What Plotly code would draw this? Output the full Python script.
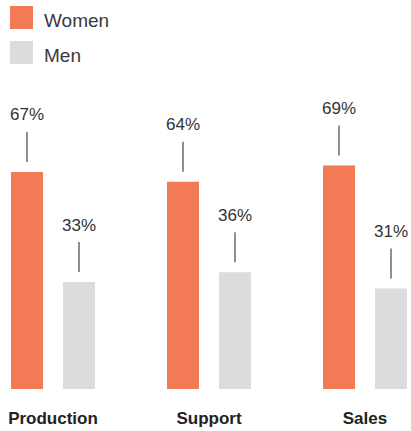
import plotly.graph_objects as go

categories = ["Production", "Support", "Sales"]
women = [67, 64, 69]
men = [33, 36, 31]
series_names = ["Women", "Men"]
colors = ["#F27A55", "#DCDCDE"]

FONT = "Liberation Sans, Arial, sans-serif"
xs = list(range(len(categories)))

fig = go.Figure()
for name, vals, col in zip(series_names, [women, men], colors):
    fig.add_trace(go.Bar(
        x=xs, y=vals, name=name, marker=dict(color=col, line=dict(width=0)),
        showlegend=False, hoverinfo="skip",
    ))

# Group geometry (grouped bars): offset of each bar from the category centre
bargap = 1 / 3
bargroupgap = 0.3846
slot = (1 - bargap) / 2
offsets = [-slot / 2, slot / 2]

annotations = []
for vals, off in zip([women, men], offsets):
    for x, v in zip(xs, vals):
        annotations.append(dict(
            x=x + off, y=v, xref="x", yref="y",
            text=f"{v}%", showarrow=True, ax=0, ay=-57,
            arrowhead=0, arrowwidth=1.3, arrowcolor="#555555",
            standoff=10, borderpad=7,
            font=dict(family=FONT, size=17, color="#333333"),
        ))

# Legend drawn as swatches + labels
shapes = []
for i, (name, col) in enumerate(zip(series_names, colors)):
    y0 = 6 + i * 35
    shapes.append(dict(type="rect", xref="paper", yref="paper",
                       x0=10 / 411, x1=33 / 411,
                       y0=1 - (y0 + 23 - 65) / 324, y1=1 - (y0 - 65) / 324,
                       fillcolor=col, line=dict(width=0), layer="above"))
    annotations.append(dict(
        x=42 / 411, y=1 - (y0 + 14 - 65) / 324, xref="paper", yref="paper",
        text=name, showarrow=False, xanchor="left", yanchor="middle",
        font=dict(family=FONT, size=19, color="#3a3a3a"),
    ))

fig.update_layout(
    width=411, height=431,
    margin=dict(l=0, r=0, t=65, b=42, pad=0),
    paper_bgcolor="white", plot_bgcolor="white",
    barmode="group", bargap=bargap, bargroupgap=bargroupgap,
    xaxis=dict(range=[-53 / 156, 358 / 156], tickvals=xs, ticktext=categories,
               showgrid=False, zeroline=False, showline=False, ticks="",
               ticklabelstandoff=17,
               tickfont=dict(family=FONT, size=17, color="#222222", weight="bold")),
    yaxis=dict(range=[0, 100], visible=False, showgrid=False, zeroline=False),
    annotations=annotations, shapes=shapes, showlegend=False,
)

fig.write_html("out.html", config={"displayModeBar": False, "staticPlot": True},
               post_script="document.body.style.margin='0';")
